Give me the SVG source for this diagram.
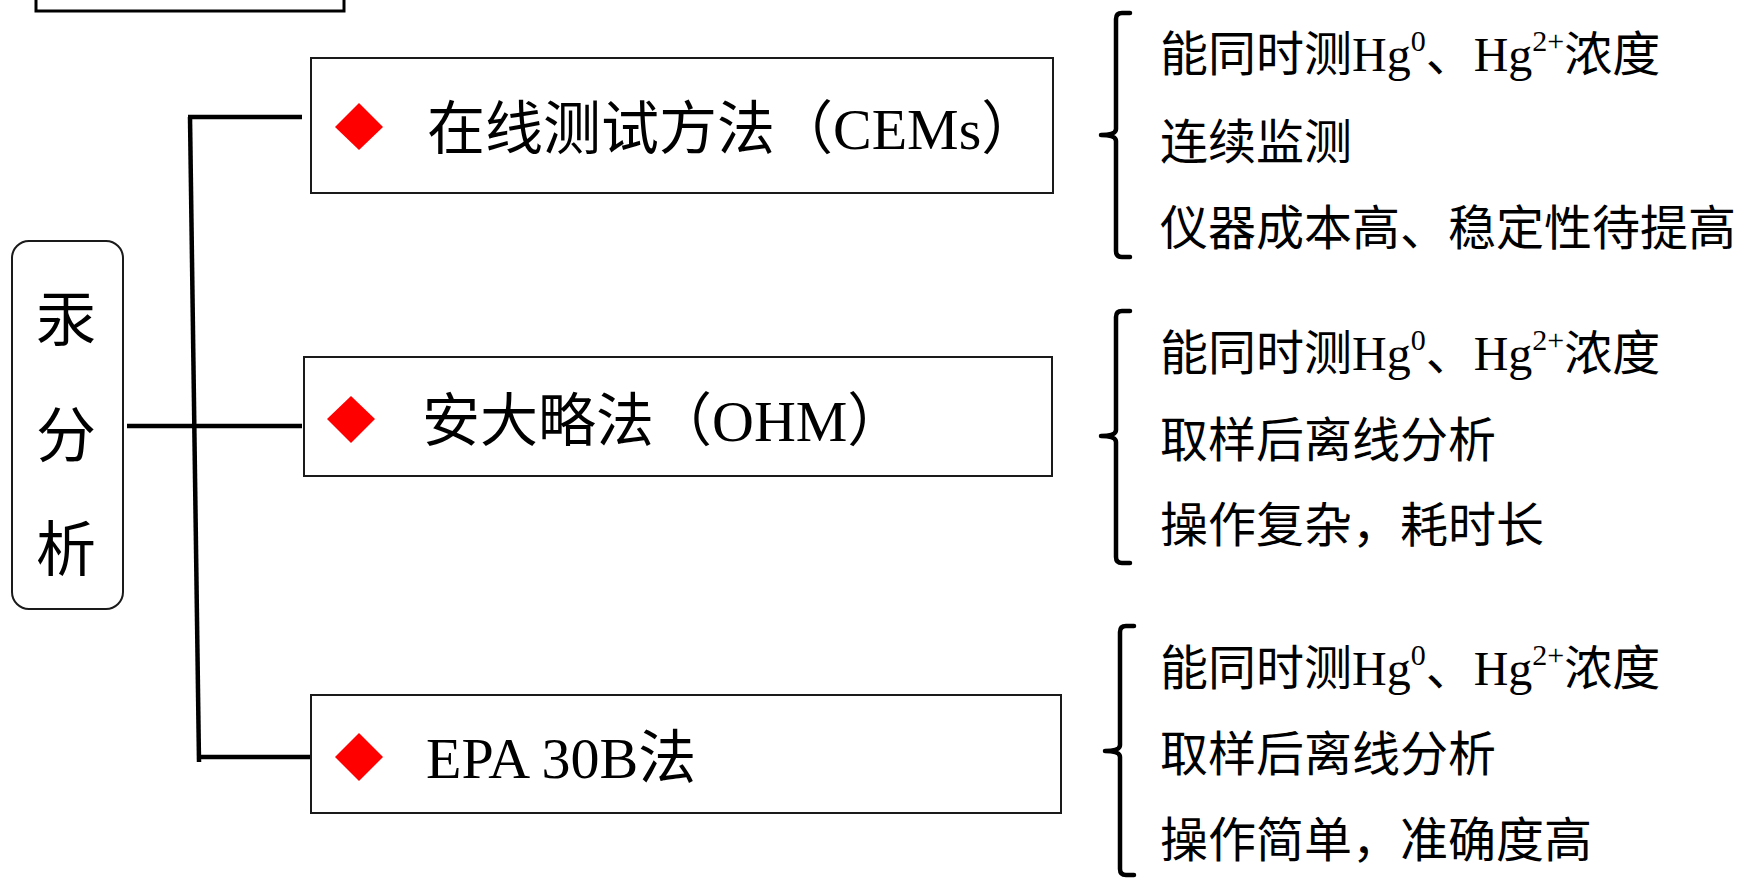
<svg xmlns="http://www.w3.org/2000/svg" width="1737" height="878" viewBox="0 0 1737 878">
<style>
.box{fill:#fff;stroke:#1a1a1a;stroke-width:2}
.dia{fill:#ff0000}
.t{font-family:"Liberation Serif","Noto Sans CJK SC",serif;fill:#000}
.m{font-size:58px}
.r{font-size:48px}
.h{font-size:60px}
.sup{font-size:30px}
.ln{stroke:#000;stroke-width:4.5;fill:none}
.br{stroke:#000;stroke-width:4.5;fill:none;stroke-linecap:round;stroke-linejoin:round}
</style>
<rect width="1737" height="878" fill="#fff"/>
<g id="top-box">
<rect x="36" y="-60" width="308" height="71" fill="#fff" stroke="#000" stroke-width="3"/>
</g>
<g id="connectors">
<line class="ln" x1="190" y1="117" x2="199" y2="762"/>
<line class="ln" x1="188" y1="117" x2="302" y2="117"/>
<line class="ln" x1="127" y1="426" x2="302" y2="426"/>
<line class="ln" x1="197" y1="757" x2="311" y2="757"/>
</g>
<g id="root">
<rect class="box" x="12" y="241" width="111" height="368" rx="17"/>
<text class="t h" x="66" y="341" text-anchor="middle">汞</text>
<text class="t h" x="66" y="457" text-anchor="middle">分</text>
<text class="t h" x="66" y="571" text-anchor="middle">析</text>
</g>
<g id="cems">
<rect class="box" x="311" y="58" width="742" height="135"/>
<polygon class="dia" points="359,103 383,127 359,150 335,127"/>
<text class="t m" x="427" y="149">在线测试方法（CEMs）</text>
</g>
<g id="ohm">
<rect class="box" x="304" y="357" width="748" height="119"/>
<polygon class="dia" points="351,396 375,419 351,443 327,419"/>
<text class="t m" x="422" y="441">安大略法（OHM）</text>
</g>
<g id="epa">
<rect class="box" x="311" y="695" width="750" height="118"/>
<polygon class="dia" points="359,733 383,757 359,781 335,757"/>
<text class="t m" x="426" y="778">EPA 30B法</text>
</g>
<g id="cems-notes">
<path class="br" d="M1130,13 L1122,13 Q1116,13 1116,19 L1116,129 Q1116,135 1101,135 Q1116,135 1116,141 L1116,251 Q1116,257 1122,257 L1130,257"/>
<text class="t r" x="1160" y="71">能同时测Hg<tspan class="sup" dy="-20">0</tspan><tspan dy="20">、Hg</tspan><tspan class="sup" dy="-20">2+</tspan><tspan dy="20">浓度</tspan></text>
<text class="t r" x="1160" y="159">连续监测</text>
<text class="t r" x="1160" y="245">仪器成本高、稳定性待提高</text>
</g>
<g id="ohm-notes">
<path class="br" d="M1130,311 L1122,311 Q1116,311 1116,317 L1116,430 Q1116,436 1101,436 Q1116,436 1116,442 L1116,557 Q1116,563 1122,563 L1130,563"/>
<text class="t r" x="1160" y="370">能同时测Hg<tspan class="sup" dy="-20">0</tspan><tspan dy="20">、Hg</tspan><tspan class="sup" dy="-20">2+</tspan><tspan dy="20">浓度</tspan></text>
<text class="t r" x="1160" y="457">取样后离线分析</text>
<text class="t r" x="1160" y="542">操作复杂，耗时长</text>
</g>
<g id="epa-notes">
<path class="br" d="M1134,626 L1126,626 Q1120,626 1120,632 L1120,745 Q1120,751 1105,751 Q1120,751 1120,757 L1120,869 Q1120,875 1126,875 L1134,875"/>
<text class="t r" x="1160" y="685">能同时测Hg<tspan class="sup" dy="-20">0</tspan><tspan dy="20">、Hg</tspan><tspan class="sup" dy="-20">2+</tspan><tspan dy="20">浓度</tspan></text>
<text class="t r" x="1160" y="771">取样后离线分析</text>
<text class="t r" x="1160" y="857">操作简单，准确度高</text>
</g>
</svg>
